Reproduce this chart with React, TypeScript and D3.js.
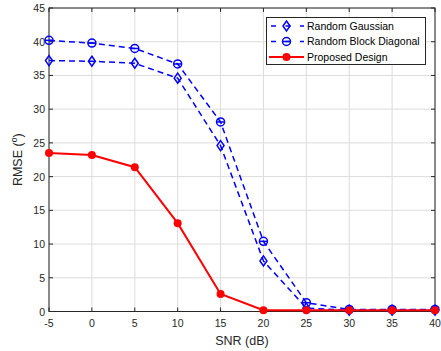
import React, { useRef, useEffect } from 'react';
import * as d3 from 'd3';

const snr = [-5, 0, 5, 10, 15, 20, 25, 30, 35, 40];
const gaussian = [37.2, 37.1, 36.8, 34.6, 24.6, 7.5, 0.5, 0.2, 0.2, 0.2];
const blockDiag = [40.2, 39.8, 39.0, 36.7, 28.1, 10.4, 1.3, 0.3, 0.3, 0.3];
const proposed = [23.5, 23.2, 21.4, 13.1, 2.6, 0.2, 0.2, 0.2, 0.2, 0.2];
const xTicks = [-5, 0, 5, 10, 15, 20, 25, 30, 35, 40];
const yTicks = [0, 5, 10, 15, 20, 25, 30, 35, 40, 45];
const seriesNames = ['Random Gaussian', 'Random Block Diagonal', 'Proposed Design'];

const App = () => {
    const ref = useRef<SVGSVGElement>(null);

    useEffect(() => {
        const svg = d3.select(ref.current);
        svg.selectAll('*').remove();

        const width = 441;
        const height = 351;
        const margin = { top: 8, right: 6, bottom: 39.5, left: 49 };
        const axisColor = '#262626';
        const font = 'Liberation Sans, Arial, sans-serif';

        const x = d3.scaleLinear().domain([-5, 40]).range([margin.left, width - margin.right]);
        const y = d3.scaleLinear().domain([0, 45]).range([height - margin.bottom, margin.top]);

        svg.append('rect').attr('width', width).attr('height', height).attr('fill', '#fff');

        // grid
        const grid = svg.append('g').attr('stroke', '#dcdcdc').attr('stroke-width', 1);
        xTicks.forEach(t => grid.append('line')
            .attr('x1', x(t)).attr('x2', x(t)).attr('y1', y(0)).attr('y2', y(45)));
        yTicks.forEach(t => grid.append('line')
            .attr('x1', x(-5)).attr('x2', x(40)).attr('y1', y(t)).attr('y2', y(t)));

        // box with inner ticks
        const box = svg.append('g').attr('stroke', axisColor).attr('fill', 'none').attr('stroke-width', 1);
        box.append('rect')
            .attr('x', x(-5)).attr('y', y(45))
            .attr('width', x(40) - x(-5)).attr('height', y(0) - y(45));
        xTicks.forEach(t => {
            box.append('line').attr('x1', x(t)).attr('x2', x(t)).attr('y1', y(0)).attr('y2', y(0) - 4);
            box.append('line').attr('x1', x(t)).attr('x2', x(t)).attr('y1', y(45)).attr('y2', y(45) + 4);
        });
        yTicks.forEach(t => {
            box.append('line').attr('x1', x(-5)).attr('x2', x(-5) + 4).attr('y1', y(t)).attr('y2', y(t));
            box.append('line').attr('x1', x(40)).attr('x2', x(40) - 4).attr('y1', y(t)).attr('y2', y(t));
        });

        // tick labels
        svg.append('g').selectAll('text').data(xTicks).enter().append('text')
            .attr('x', d => x(d)).attr('y', y(0) + 15)
            .attr('text-anchor', 'middle').attr('font-family', font).attr('font-size', 10.5)
            .attr('fill', axisColor).text(d => d);
        svg.append('g').selectAll('text').data(yTicks).enter().append('text')
            .attr('x', x(-5) - 4).attr('y', d => y(d) + 4)
            .attr('text-anchor', 'end').attr('font-family', font).attr('font-size', 10.5)
            .attr('fill', axisColor).text(d => d);

        // axis labels
        svg.append('text')
            .attr('x', (x(-5) + x(40)) / 2).attr('y', height - 6)
            .attr('text-anchor', 'middle').attr('font-family', font).attr('font-size', 12.5)
            .attr('fill', axisColor).text('SNR (dB)');
        const yl = svg.append('text')
            .attr('transform', `translate(${22},${(y(0) + y(45)) / 2}) rotate(-90)`)
            .attr('text-anchor', 'middle').attr('font-family', font).attr('font-size', 12.5)
            .attr('fill', axisColor);
        yl.append('tspan').text('RMSE (');
        yl.append('tspan').attr('dy', -5).attr('font-size', 8.5).text('o');
        yl.append('tspan').attr('dy', 5).text(')');

        const line = d3.line<number>().x((_, i) => x(snr[i])).y(d => y(d));
        const plot = svg.append('g');

        const diamond = (g: any, cx: number, cy: number) => g.append('path')
            .attr('d', `M${cx},${cy - 5}L${cx + 3.5},${cy}L${cx},${cy + 5}L${cx - 3.5},${cy}Z`)
            .attr('fill', 'none').attr('stroke', 'blue').attr('stroke-width', 1.5);
        const circle = (g: any, cx: number, cy: number) => {
            g.append('circle').attr('cx', cx).attr('cy', cy).attr('r', 4)
                .attr('fill', 'none').attr('stroke', 'blue').attr('stroke-width', 1.5);
            g.append('line').attr('x1', cx - 4).attr('x2', cx + 4).attr('y1', cy).attr('y2', cy)
                .attr('stroke', 'blue').attr('stroke-width', 1.5);
        };
        const dot = (g: any, cx: number, cy: number) => g.append('circle')
            .attr('cx', cx).attr('cy', cy).attr('r', 4).attr('fill', 'red');

        plot.append('path').attr('d', line(gaussian)).attr('fill', 'none')
            .attr('stroke', 'blue').attr('stroke-width', 1.5).attr('stroke-dasharray', '6,4');
        gaussian.forEach((d, i) => diamond(plot, x(snr[i]), y(d)));
        plot.append('path').attr('d', line(blockDiag)).attr('fill', 'none')
            .attr('stroke', 'blue').attr('stroke-width', 1.5).attr('stroke-dasharray', '6,4');
        blockDiag.forEach((d, i) => circle(plot, x(snr[i]), y(d)));
        plot.append('path').attr('d', line(proposed)).attr('fill', 'none')
            .attr('stroke', 'red').attr('stroke-width', 2);
        proposed.forEach((d, i) => dot(plot, x(snr[i]), y(d)));

        // legend
        const lg = svg.append('g');
        lg.append('rect').attr('x', 266.5).attr('y', 17.5).attr('width', 159).attr('height', 47)
            .attr('fill', '#fff').attr('stroke', axisColor).attr('stroke-width', 1);
        const rows = [26, 41.5, 57];
        seriesNames.forEach((name, i) => {
            const ly = rows[i];
            const ln = lg.append('line').attr('x1', 269).attr('x2', 304).attr('y1', ly).attr('y2', ly)
                .attr('stroke', i === 2 ? 'red' : 'blue').attr('stroke-width', i === 2 ? 2 : 1.5);
            if (i < 2) ln.attr('stroke-dasharray', '5,9.5').attr('stroke-dashoffset', -2);
            if (i === 0) diamond(lg, 286.5, ly);
            else if (i === 1) circle(lg, 286.5, ly);
            else dot(lg, 286.5, ly);
            lg.append('text').attr('x', 307).attr('y', ly + 3.5)
                .attr('font-family', font).attr('font-size', 10.5)
                .attr('fill', '#000').text(name);
        });
    }, []);

    return <svg ref={ref} width={441} height={351} style={{ position: 'absolute', left: 0, top: 0 }}></svg>;
};

export default App;
